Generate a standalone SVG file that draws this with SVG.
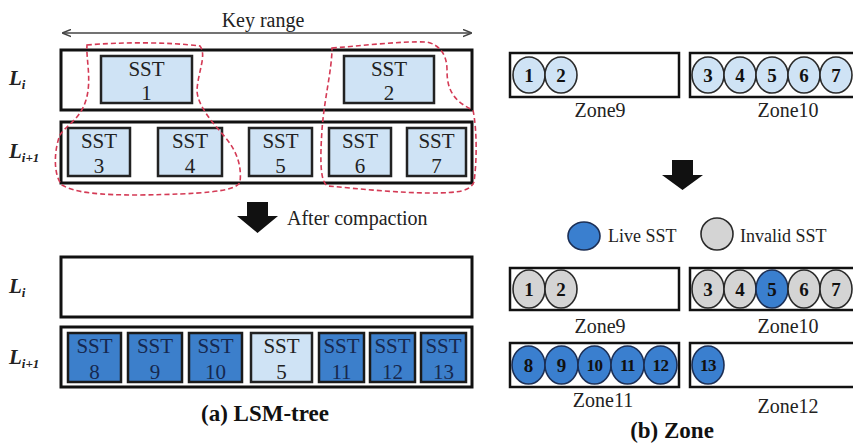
<svg xmlns="http://www.w3.org/2000/svg" width="853" height="443" viewBox="0 0 853 443">
<style>
text{font-family:"Liberation Serif","Times New Roman",serif;fill:#222}
.lvl{fill:#fff;stroke:#111;stroke-width:3}
.sst{fill:#cfe3f5;stroke:#222;stroke-width:2.5}
.sstd{fill:#3c7fcb;stroke:#1a1a1a;stroke-width:2.5}
.st{font-size:21px;text-anchor:middle}
.std{font-size:21px;text-anchor:middle;fill:#16284f}
.zone{fill:#fff;stroke:#111;stroke-width:2.5}
.cl{fill:#cfe3f5;stroke:#2a2a2a;stroke-width:1.6}
.cg{fill:#d4d4d4;stroke:#2a2a2a;stroke-width:1.6}
.cb{fill:#3a7fcf;stroke:#1c2f55;stroke-width:1.6}
.cn{font-size:19px;font-weight:bold;text-anchor:middle;fill:#111}
.cn2{font-size:17px;font-weight:bold;text-anchor:middle;fill:#111;letter-spacing:-0.5px}
.zl{font-size:20px;text-anchor:middle}
.lab{font-size:21px;font-style:italic;font-weight:bold;fill:#222}
.sub{font-size:13px}
.red{fill:none;stroke:#d43a55;stroke-width:1.6;stroke-dasharray:5 3}
.blk{fill:#111}
.title{font-size:23px;font-weight:bold;text-anchor:middle;fill:#111}
</style>
<defs>
<marker id="ah" viewBox="0 0 10 10" refX="9" refY="5" markerWidth="9" markerHeight="9" orient="auto-start-reverse" markerUnits="userSpaceOnUse">
<path d="M0,1 L10,5 L0,9" fill="none" stroke="#444" stroke-width="1.6"/>
</marker>
</defs>
<rect width="853" height="443" fill="#fff"/>

<!-- (a) LSM-tree -->
<g id="keyrange">
<line x1="63" y1="33" x2="471" y2="33" stroke="#444" stroke-width="1.6" marker-start="url(#ah)" marker-end="url(#ah)"/>
<text x="263" y="27" font-size="20" text-anchor="middle">Key range</text>
</g>

<g id="top-Li">
<rect class="lvl" x="61" y="50" width="411" height="60"/>
<text class="lab" x="9" y="85">L<tspan class="sub" dy="4">i</tspan></text>
</g>
<g id="top-Li1">
<rect class="lvl" x="61" y="122" width="411" height="61"/>
<text class="lab" x="9" y="158">L<tspan class="sub" dy="4">i+1</tspan></text>
</g>

<g id="sst1"><rect class="sst" x="101" y="56" width="91" height="47"/><text class="st" x="146.5" y="76">SST</text><text class="st" x="146.5" y="100">1</text></g>
<g id="sst2"><rect class="sst" x="344" y="56" width="90" height="47"/><text class="st" x="389" y="76">SST</text><text class="st" x="389" y="100">2</text></g>
<g id="sst3"><rect class="sst" x="68" y="128" width="62" height="48"/><text class="st" x="99" y="148">SST</text><text class="st" x="99" y="173">3</text></g>
<g id="sst4"><rect class="sst" x="158" y="128" width="64" height="48"/><text class="st" x="190" y="148">SST</text><text class="st" x="190" y="173">4</text></g>
<g id="sst5"><rect class="sst" x="249" y="128" width="63" height="48"/><text class="st" x="280.5" y="148">SST</text><text class="st" x="280.5" y="173">5</text></g>
<g id="sst6"><rect class="sst" x="329" y="128" width="62" height="48"/><text class="st" x="360" y="148">SST</text><text class="st" x="360" y="173">6</text></g>
<g id="sst7"><rect class="sst" x="407" y="128" width="59" height="48"/><text class="st" x="436.5" y="148">SST</text><text class="st" x="436.5" y="173">7</text></g>

<g id="compaction-groups">
<path class="red" d="M87,45 C120,42 170,42 200,46 C207,55 198,72 197,90 C197,105 212,122 225,137 C236,150 242,165 240,182 C236,192 200,194 140,195 C100,195 75,193 62,185 C53,175 54,150 60,135 C66,125 80,120 86,100 C92,80 86,60 87,45 Z"/>
<path class="red" d="M332,48 C360,46 400,41 427,42 C440,45 447,55 447,70 C447,85 450,100 473,110 C477,130 477,160 474,182 C470,191 460,193 430,193 C400,193 360,189 328,186 C320,183 320,160 322,130 C324,100 332,70 332,48 Z"/>
</g>

<g id="after-compaction">
<polygon class="blk" points="247,202 268,202 268,216 278,216 257.5,233 237,216 247,216"/>
<text x="287" y="225" font-size="20">After compaction</text>
</g>

<g id="bot-Li">
<rect class="lvl" x="61" y="257" width="411" height="60"/>
<text class="lab" x="9" y="293">L<tspan class="sub" dy="4">i</tspan></text>
</g>
<g id="bot-Li1">
<rect class="lvl" x="61" y="327" width="411" height="60"/>
<text class="lab" x="9" y="364">L<tspan class="sub" dy="4">i+1</tspan></text>
</g>

<g id="sst8"><rect class="sstd" x="68" y="333" width="53" height="49"/><text class="std" x="94.5" y="353">SST</text><text class="std" x="94.5" y="379">8</text></g>
<g id="sst9"><rect class="sstd" x="128" y="333" width="54" height="49"/><text class="std" x="155" y="353">SST</text><text class="std" x="155" y="379">9</text></g>
<g id="sst10"><rect class="sstd" x="189" y="333" width="53" height="49"/><text class="std" x="215.5" y="353">SST</text><text class="std" x="215.5" y="379">10</text></g>
<g id="sst5b"><rect class="sst" x="251" y="333" width="61" height="49"/><text class="st" x="281.5" y="353">SST</text><text class="st" x="281.5" y="379">5</text></g>
<g id="sst11"><rect class="sstd" x="319" y="333" width="45" height="49"/><text class="std" x="341.5" y="353">SST</text><text class="std" x="341.5" y="379">11</text></g>
<g id="sst12"><rect class="sstd" x="370" y="333" width="45" height="49"/><text class="std" x="392.5" y="353">SST</text><text class="std" x="392.5" y="379">12</text></g>
<g id="sst13"><rect class="sstd" x="421" y="333" width="45" height="49"/><text class="std" x="443.5" y="353">SST</text><text class="std" x="443.5" y="379">13</text></g>

<text id="title-a" class="title" x="265" y="421">(a) LSM-tree</text>

<!-- (b) Zone -->
<g id="zone9-before">
<rect class="zone" x="510" y="53" width="169" height="44"/>
<ellipse class="cl" cx="529" cy="75" rx="16" ry="18"/><text class="cn" x="529" y="82">1</text>
<ellipse class="cl" cx="561" cy="75" rx="16" ry="18"/><text class="cn" x="561" y="82">2</text>
<text class="zl" x="600" y="117">Zone9</text>
</g>
<g id="zone10-before">
<rect class="zone" x="690" y="53" width="175" height="44"/>
<ellipse class="cl" cx="708" cy="75" rx="16" ry="18"/><text class="cn" x="708" y="82">3</text>
<ellipse class="cl" cx="740" cy="75" rx="16" ry="18"/><text class="cn" x="740" y="82">4</text>
<ellipse class="cl" cx="772" cy="75" rx="16" ry="18"/><text class="cn" x="772" y="82">5</text>
<ellipse class="cl" cx="804" cy="75" rx="16" ry="18"/><text class="cn" x="804" y="82">6</text>
<ellipse class="cl" cx="836" cy="75" rx="16" ry="18"/><text class="cn" x="836" y="82">7</text>
<text class="zl" x="788" y="117">Zone10</text>
</g>

<g id="zone-arrow">
<polygon class="blk" points="672,160 693,160 693,175 703,175 682.5,190 662,175 672,175"/>
</g>

<g id="legend">
<ellipse class="cb" cx="584" cy="236" rx="16" ry="14"/>
<text x="608" y="242" font-size="18">Live SST</text>
<ellipse class="cg" cx="717" cy="234" rx="16" ry="16"/>
<text x="740" y="242" font-size="18">Invalid SST</text>
</g>

<g id="zone9-after">
<rect class="zone" x="510" y="268" width="169" height="42"/>
<ellipse class="cg" cx="529" cy="289" rx="16" ry="19"/><text class="cn" x="529" y="296">1</text>
<ellipse class="cg" cx="561" cy="289" rx="16" ry="19"/><text class="cn" x="561" y="296">2</text>
<text class="zl" x="600" y="333">Zone9</text>
</g>
<g id="zone10-after">
<rect class="zone" x="690" y="268" width="175" height="42"/>
<ellipse class="cg" cx="708" cy="289" rx="16" ry="19"/><text class="cn" x="708" y="296">3</text>
<ellipse class="cg" cx="740" cy="289" rx="16" ry="19"/><text class="cn" x="740" y="296">4</text>
<ellipse class="cb" cx="772" cy="289" rx="16" ry="19"/><text class="cn" x="772" y="296">5</text>
<ellipse class="cg" cx="804" cy="289" rx="16" ry="19"/><text class="cn" x="804" y="296">6</text>
<ellipse class="cg" cx="836" cy="289" rx="16" ry="19"/><text class="cn" x="836" y="296">7</text>
<text class="zl" x="788" y="333">Zone10</text>
</g>
<g id="zone11">
<rect class="zone" x="510" y="343" width="169" height="44"/>
<ellipse class="cb" cx="528.5" cy="365" rx="16.5" ry="19"/><text class="cn" x="528.5" y="372">8</text>
<ellipse class="cb" cx="561.5" cy="365" rx="16.5" ry="19"/><text class="cn" x="561.5" y="372">9</text>
<ellipse class="cb" cx="594.5" cy="365" rx="16.5" ry="19"/><text class="cn2" x="594.5" y="371">10</text>
<ellipse class="cb" cx="627.5" cy="365" rx="16.5" ry="19"/><text class="cn2" x="627.5" y="371">11</text>
<ellipse class="cb" cx="660.5" cy="365" rx="16.5" ry="19"/><text class="cn2" x="660.5" y="371">12</text>
<text class="zl" x="603" y="407">Zone11</text>
</g>
<g id="zone12">
<rect class="zone" x="690" y="343" width="175" height="44"/>
<ellipse class="cb" cx="708" cy="365" rx="16" ry="19"/><text class="cn2" x="708" y="371">13</text>
<text class="zl" x="788" y="413">Zone12</text>
</g>

<text id="title-b" class="title" x="672" y="438">(b) Zone</text>
</svg>
